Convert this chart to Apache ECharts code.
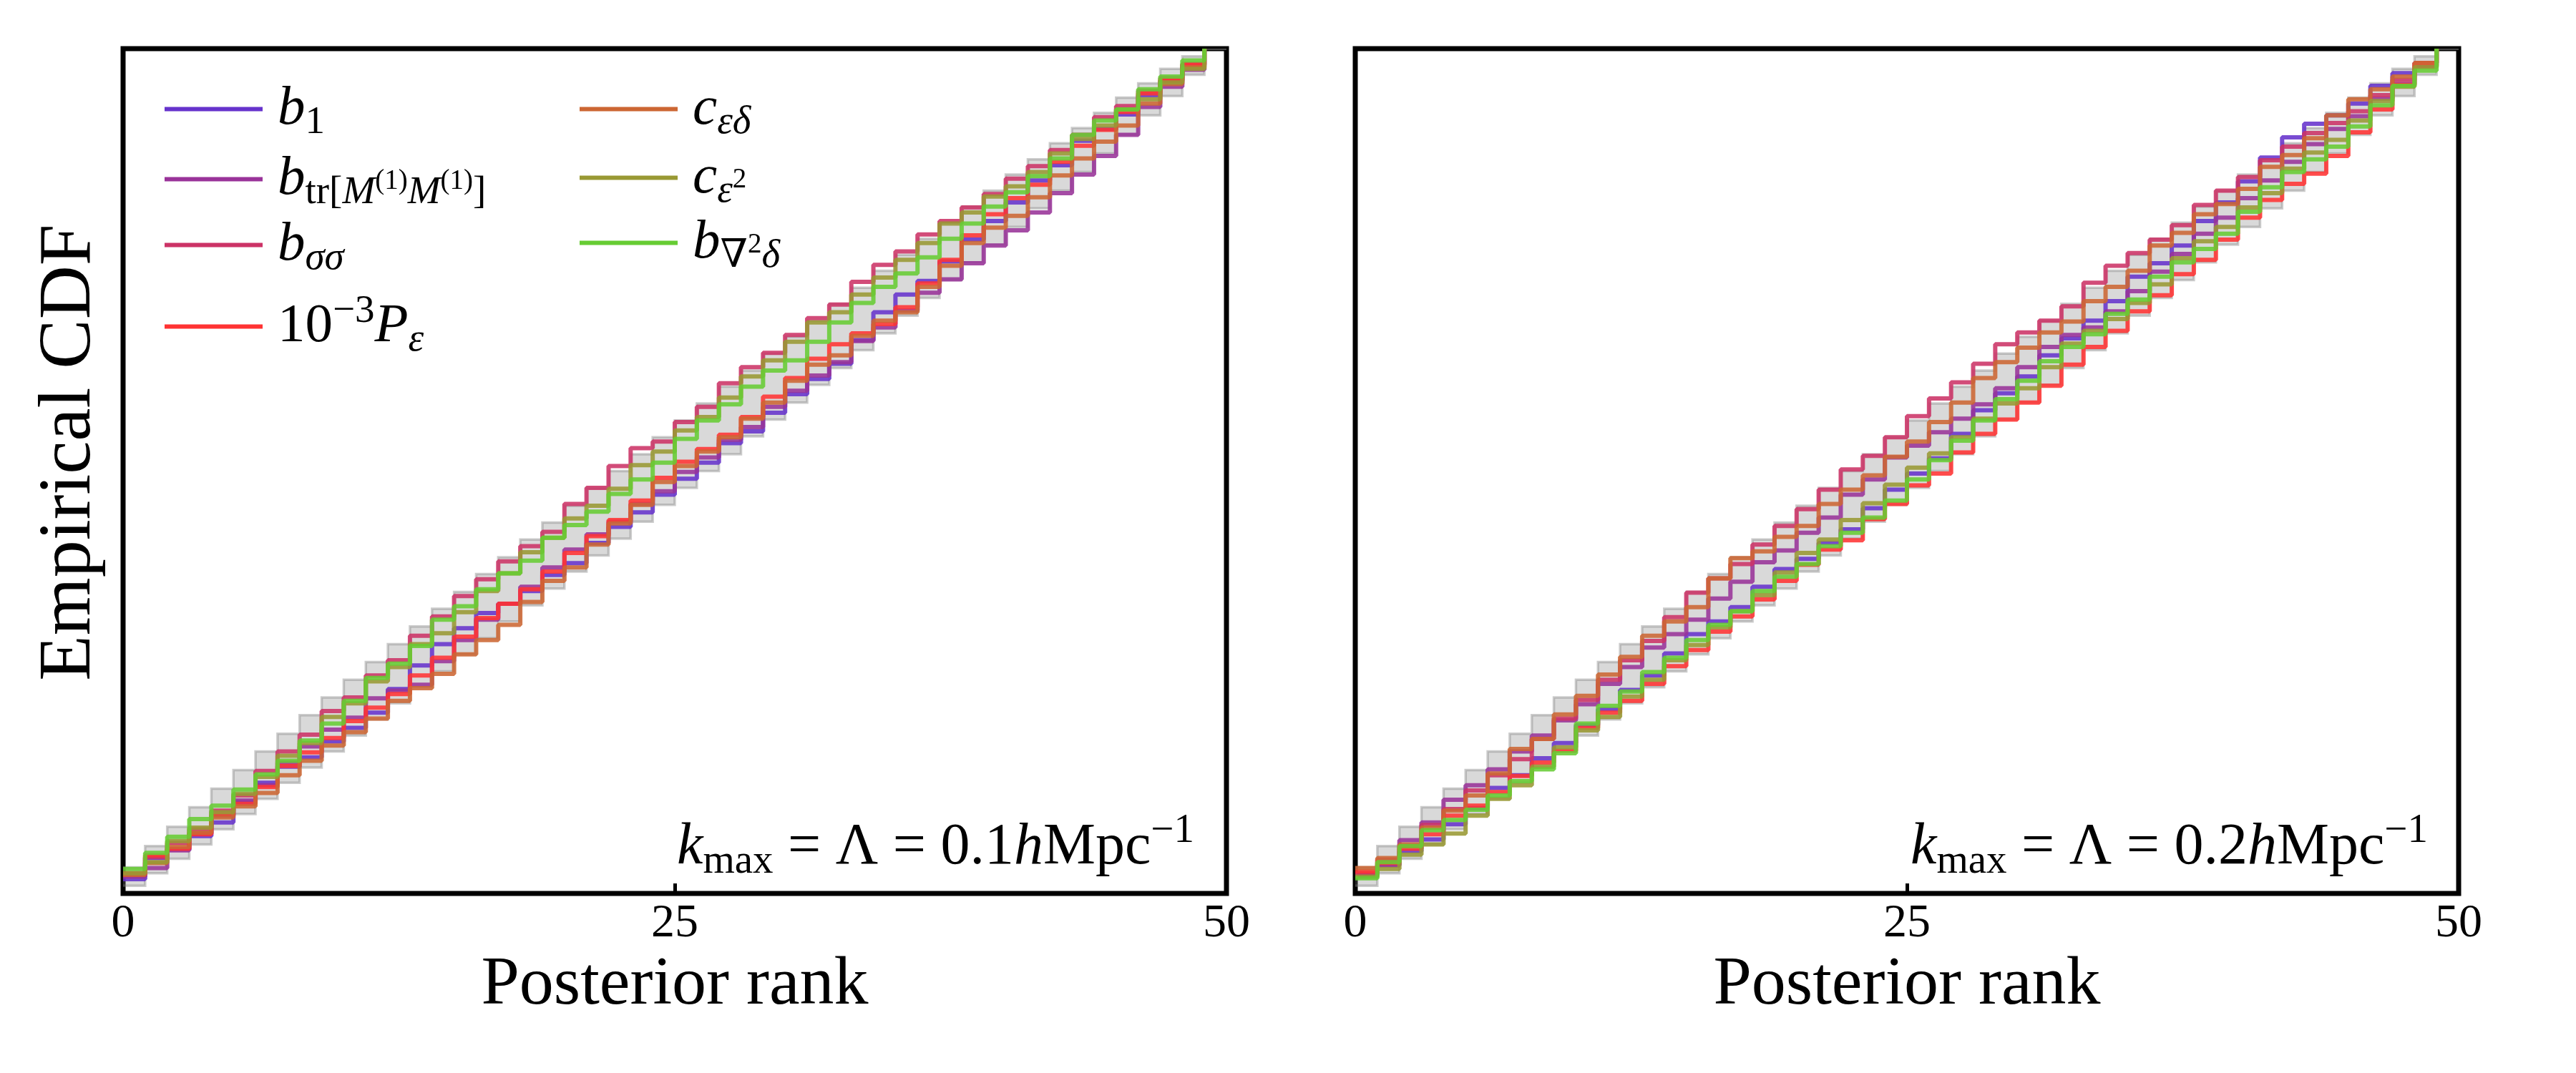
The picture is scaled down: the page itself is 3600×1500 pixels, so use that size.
<!DOCTYPE html>
<html lang="en">
<head>
<meta charset="UTF-8">
<title>Posterior rank ECDF</title>
<script src="https://cdn.jsdelivr.net/npm/echarts@6.0.0/dist/echarts.min.js"></script>
<style>
  html, body { margin: 0; padding: 0; background: #fff; }
  #chart { width: 3600px; height: 1500px; }
</style>
</head>
<body>
<div id="chart"></div>
<script>
// posterior rank bins
const ranks = [0,1,2,3,4,5,6,7,8,9,10,11,12,13,14,15,16,17,18,19,20,21,22,23,24,
               25,26,27,28,29,30,31,32,33,34,35,36,37,38,39,40,41,42,43,44,45,46,47,48,49];
const xTicks = [0, 25, 50];

// grey band around the uniform ECDF (per mille)
const bandLo = [9,24,41,58,76,94,112,131,149,168,187,206,225,244,263,283,302,322,341,361,
                381,400,420,440,460,480,500,520,541,561,581,602,622,643,663,684,705,726,747,768,
                789,811,832,854,876,898,921,944,969,1000];
const bandHi = [31,56,79,102,124,146,168,189,211,232,253,274,295,316,337,357,378,398,419,439,
                459,480,500,520,540,560,580,600,619,639,659,678,698,717,737,756,775,794,813,832,
                851,869,888,906,924,942,959,976,991,1000];

// kmax = 0.1 panel, empirical CDF per mille
const b1_01  = [17,42,52,68,84,108,131,150,161,180,196,214,242,270,295,314,332,343,358,377,
                391,415,434,451,472,491,510,533,547,569,591,609,627,655,688,709,725,748,774,796,
                818,844,862,891,905,922,945,962,980,1000];
const btr_01 = [20,30,51,71,92,110,128,155,174,194,208,231,240,247,275,300,324,343,363,386,
                407,425,440,461,476,499,516,537,552,576,595,613,629,654,670,690,711,727,746,767,
                785,806,829,851,873,898,931,955,975,1000];
const bss_01 = [22,43,60,76,98,116,145,168,188,216,232,258,276,305,328,352,372,393,411,428,
                461,480,506,527,535,558,576,604,623,640,661,681,697,724,744,760,780,796,812,828,
                846,861,880,898,919,932,950,965,982,1000];
const pe_01  = [24,45,53,70,93,106,126,151,167,184,204,220,236,258,279,304,326,343,360,381,
                403,423,442,465,492,511,526,543,564,588,610,633,650,663,674,694,722,750,779,804,
                823,839,866,885,904,925,947,963,981,1000];
const ced_01 = [22,36,55,72,90,103,119,140,157,175,191,207,228,243,260,283,300,318,345,370,
                386,413,438,460,487,506,523,540,562,581,607,626,637,660,678,688,718,743,770,788,
                802,824,850,870,890,909,935,958,978,1000];
const ce2_01 = [24,37,62,78,96,118,138,163,178,209,225,251,268,295,308,333,358,379,404,421,
                444,459,479,507,523,548,564,587,612,631,653,676,688,709,729,750,770,793,806,825,
                837,854,876,893,909,928,940,960,976,1000];
const bd2_01 = [29,48,67,88,104,123,141,157,181,201,228,255,272,293,324,340,360,379,394,421,
                436,452,473,490,510,538,560,579,600,619,631,653,676,699,718,734,753,775,793,813,
                830,849,870,898,915,928,952,967,986,1000];

// kmax = 0.2 panel
const b1_02  = [21,34,50,64,82,101,125,140,160,178,199,218,241,258,284,307,322,339,363,384,
                396,415,431,456,478,497,515,544,572,592,612,637,657,678,701,730,746,767,796,818,
                843,871,895,911,921,935,956,971,983,1000];
const btr_02 = [22,33,63,84,111,128,147,168,187,205,224,248,268,291,307,324,349,369,392,406,
                427,445,472,490,516,530,546,562,579,598,623,647,661,670,689,713,736,757,781,800,
                823,844,866,887,905,920,941,958,980,1000];
const bss_02 = [24,40,56,81,100,122,140,159,183,207,229,253,276,299,327,356,373,390,413,435,
                455,478,502,518,540,565,586,605,627,650,664,678,695,723,743,758,774,791,815,832,
                848,868,884,900,912,926,945,963,979,1000];
const pe_02  = [26,36,53,70,92,104,120,139,155,169,196,214,228,248,269,288,310,328,348,370,
                389,407,418,443,461,483,497,522,544,561,581,601,626,647,666,689,708,733,750,774,
                800,821,840,852,873,901,928,957,983,1000];
const ced_02 = [30,42,58,78,98,116,142,171,183,212,234,259,280,305,322,339,373,397,405,422,
                435,461,478,495,517,535,558,581,610,629,646,664,677,701,718,737,767,782,804,816,
                834,860,874,894,921,940,952,967,983,1000];
const ce2_02 = [20,29,46,58,71,92,112,128,150,173,193,209,233,253,276,294,315,334,353,380,
                403,419,442,462,484,504,521,540,562,580,598,623,651,666,680,699,721,752,772,789,
                812,829,858,877,892,915,938,955,978,1000];
const bd2_02 = [18,37,56,75,87,99,116,133,147,166,201,222,239,262,279,300,318,334,358,375,
                390,411,427,445,465,490,513,536,560,585,607,630,647,662,686,703,730,747,763,781,
                807,836,854,869,884,908,933,956,974,1000];

const names  = ['b1', 'btr', 'bss', 'pe', 'ced', 'ce2', 'bd2'];
const colors = ['#6633cc', '#993399', '#cc3366', '#ff3333', '#cc6633', '#999933', '#66cc33'];
const panels = [
    [b1_01, btr_01, bss_01, pe_01, ced_01, ce2_01, bd2_01],
    [b1_02, btr_02, bss_02, pe_02, ced_02, ce2_02, bd2_02]
];

const SERIF = "'Liberation Serif', 'DejaVu Serif', serif";

// mathtext-like legend labels
const labels = {
    b1:  '{g| }{m|b}{s|1}',
    btr: '{g| }{m|b}{s|tr[}{si|M}{ss|(1)}{si|M}{ss|(1)}{s|]}',
    bss: '{g| }{m|b}{si|σσ}',
    pe:  '{g| }{r|10}{p|−3}{m|P}{si|ε}',
    ced: '{g| }{m|c}{si|εδ}',
    ce2: '{g| }{m|c}{si|ε}{ss|2}',
    bd2: '{g| }{m|b}{s|∇}{ss|2}{si|δ}'
};
function rs(size, italic, pad) {
    return { fontFamily: SERIF, fontStyle: italic ? 'italic' : 'normal', fontWeight: 'normal',
             fontSize: size, padding: pad, color: '#000' };
}
const legendRich = {
    g:  { width: 16, fontSize: 20 },
    m:  Object.assign(rs(77, true, [0, 0, 0, 0]), { lineHeight: 120 }),
    r:  Object.assign(rs(77, false, [0, 0, 0, 0]), { lineHeight: 120 }),
    s:  rs(55, false, [38, 0, 0, 0]),
    si: rs(55, true, [38, 0, 0, 0]),
    p:  rs(55, false, [0, 0, 42, 0]),
    ss: rs(39, false, [6, 0, 0, 0])
};
const annRich = {
    m: Object.assign(rs(82, true, [0, 0, 0, 0]), { lineHeight: 130 }),
    r: Object.assign(rs(82, false, [0, 0, 0, 0]), { lineHeight: 130 }),
    s: rs(57, false, [40, 0, 0, 0]),
    p: rs(57, false, [0, 0, 46, 0])
};
const annText = function (k) {
    return '{m|k}{s|max}{r| = Λ = ' + k + '}{m|h}{r|Mpc}{p|−1}';
};

// legend rows: [name, left, centre y]
const legendPos = [
    ['b1', 230, 174], ['btr', 230, 272], ['bss', 230, 364], ['pe', 230, 468],
    ['ced', 810, 174], ['ce2', 810, 270], ['bd2', 810, 361]
];

function pairs(vals) {
    return ranks.map(function (r, i) { return [r, vals[i] / 1000]; });
}

// one stepped polygon for the whole band, drawn through the axis scales
function renderBand(params, api) {
    if (params.dataIndex !== 0) return null;
    const n = ranks.length;
    const up = [], dn = [];
    for (let i = 0; i < n; i++) {
        const hi = api.value(2, i), lo = api.value(1, i), x = api.value(0, i);
        up.push(api.coord([x, hi]), api.coord([x + 1, hi]));
        dn.push(api.coord([x, lo]), api.coord([x + 1, lo]));
    }
    const poly = up.concat(dn.slice().reverse());
    return {
        type: 'group',
        children: [
            { type: 'polygon', shape: { points: poly },
              style: { fill: 'rgba(128,128,128,0.3)', stroke: 'none' } },
            { type: 'polyline', shape: { points: up },
              style: { fill: 'none', stroke: 'rgba(128,128,128,0.4)', lineWidth: 3.5 } },
            { type: 'polyline', shape: { points: dn },
              style: { fill: 'none', stroke: 'rgba(128,128,128,0.4)', lineWidth: 3.5 } }
        ]
    };
}

let grids = [], xAxes = [], yAxes = [], series = [];
const gridLeft = [172, 1894];
for (let g = 0; g < 2; g++) {
    grids.push({
        left: gridLeft[g], top: 68, width: 1542, height: 1181,
        show: true, borderColor: '#000', borderWidth: 7, backgroundColor: 'transparent'
    });
    xAxes.push({
        type: 'value', gridIndex: g, min: xTicks[0], max: xTicks[2], interval: xTicks[1] - xTicks[0],
        name: 'Posterior rank', nameLocation: 'middle', nameGap: 66,
        nameTextStyle: { fontFamily: SERIF, fontSize: 96, color: '#000' },
        axisLine: { show: false },
        axisTick: { show: true, inside: true, length: 14, lineStyle: { color: '#000', width: 5 } },
        axisLabel: { fontFamily: SERIF, fontSize: 66, color: '#000', margin: 10 },
        splitLine: { show: false }
    });
    yAxes.push({
        type: 'value', gridIndex: g, min: 0, max: 1,
        name: g === 0 ? 'Empirical CDF' : '', nameLocation: 'middle', nameGap: 22, nameRotate: 90,
        nameTextStyle: { fontFamily: SERIF, fontSize: 104, color: '#000', padding: [0, 0, 0, 52] },
        axisLine: { show: false }, axisTick: { show: false },
        axisLabel: { show: false }, splitLine: { show: false }
    });

    series.push({
        type: 'custom', xAxisIndex: g, yAxisIndex: g, z: 1, silent: true, clip: true,
        data: ranks.map(function (r, i) { return [r, bandLo[i] / 1000, bandHi[i] / 1000]; }),
        encode: { x: 0, y: [1, 2] },
        renderItem: renderBand
    });

    panels[g].forEach(function (vals, k) {
        series.push({
            name: names[k], type: 'line', xAxisIndex: g, yAxisIndex: g, step: 'end',
            data: pairs(vals), symbol: 'none', z: 3 + k,
            lineStyle: { color: colors[k], width: 6, opacity: 0.88 },
            itemStyle: { color: colors[k], opacity: 1 }
        });
    });
}

const legends = legendPos.map(function (p) {
    return {
        data: [p[0]], left: p[1], top: p[2] - 60, padding: 0, orient: 'vertical',
        icon: 'rect', itemWidth: 137, itemHeight: 6, selectedMode: false,
        itemStyle: { opacity: 1 },
        formatter: function (name) { return labels[name]; },
        textStyle: { rich: legendRich }
    };
});

const chart = echarts.init(document.getElementById('chart'), null, { renderer: 'canvas' });
chart.setOption({
    backgroundColor: '#fff',
    animation: false,
    title: [
        { text: annText('0.1'), right: 1931, top: 1120, padding: 0,
          textStyle: { fontWeight: 'normal', rich: annRich } },
        { text: annText('0.2'), right: 207, top: 1120, padding: 0,
          textStyle: { fontWeight: 'normal', rich: annRich } }
    ],
    legend: legends,
    grid: grids,
    xAxis: xAxes,
    yAxis: yAxes,
    series: series
});
</script>
</body>
</html>
